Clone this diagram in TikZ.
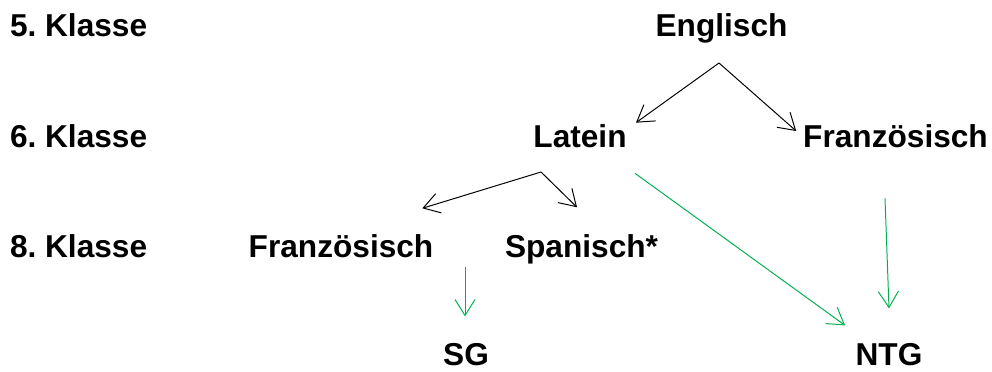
\documentclass[tikz,border=0pt]{standalone}
\usepackage{fontspec}
\setmainfont{Liberation Sans}
\usepackage{tikz}
\usetikzlibrary{arrows.meta}
\definecolor{ntggreen}{HTML}{00B050}
\tikzset{
  fach/.style={font=\fontsize{22.5}{27}\selectfont\bfseries\frenchspacing, inner sep=0pt, outer sep=0pt, anchor=base},
  pfeil/.style={-{Straight Barb[length=4mm,width=5mm]}, line width=0.7pt},
  gruen/.style={pfeil, draw=ntggreen},
}

\begin{document}
\begin{tikzpicture}[x=0.025cm, y=-0.025cm]
        \useasboundingbox (0,0) rectangle (992,371);
        % Klassenstufen
        \node[fach, anchor=base west] (k5) at (10,36) {5. Klasse};
        \node[fach, anchor=base west] (k6) at (10,147) {6. Klasse};
        \node[fach, anchor=base west] (k8) at (10,257) {8. Klasse};

        % Sprachen und Zweige
        \node[fach] (englisch) at (721.5,36) {Englisch};
        \node[fach] (latein) at (580,147) {Latein};
        \node[fach] (franz6) at (895.5,147) {Französisch};
        \node[fach] (franz8) at (341,257) {Französisch};
        \node[fach] (spanisch) at (581.5,257) {Spanisch*};
        \node[fach] (sg) at (466,365.5) {SG};
        \node[fach] (ntg) at (889,365.5) {NTG};

        % schwarze Pfeile
        \coordinate (split6) at (719,63);
        \draw[pfeil] (split6) -- ([shift={(9.4,-1.4)}]latein.north east);
        \draw[pfeil] (split6) -- ([shift={(-7,-4.7)}]franz6.west);

        \coordinate (split8) at (541,172);
        \draw[pfeil] (split8) -- ([shift={(-11,-25.8)}]franz8.north east);
        \draw[pfeil] (split8) -- ([shift={(-4.5,-26.8)}]spanisch.north);

        % grüne Pfeile
        \draw[gruen] ([shift={(8.4,26)}]latein.south east) -- ([shift={(-10.5,-18)}]ntg.north west);
        \draw[gruen] ([shift={(-10.5,51)}]franz6.south) -- ([shift={(0,-35)}]ntg.north);
        \coordinate (sgstart) at (465,267);
        \draw[gruen] (sgstart) -- ([shift={(-1,-27)}]sg.north);
    \end{tikzpicture}
\end{document}
